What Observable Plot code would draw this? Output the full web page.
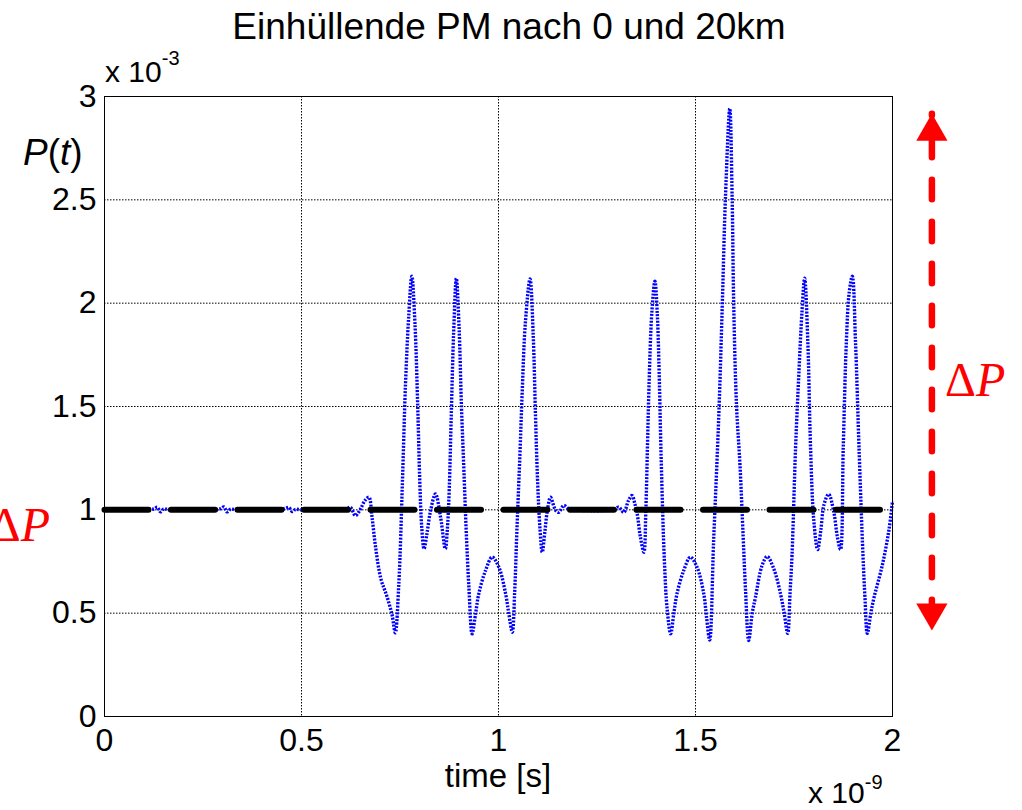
<!DOCTYPE html>
<html><head><meta charset="utf-8">
<script src="https://cdn.jsdelivr.net/npm/d3@7"></script>
<script src="https://cdn.jsdelivr.net/npm/@observablehq/plot@0.6"></script>
<style>
body{margin:0;background:#fff;}
#chart{width:1022px;height:810px;}
</style></head><body><div id="chart"></div>
<script>
// ---- data (time in units of 1e-9 s, power in units of 1e-3) ----
const timeNs = [
  0.000,0.100,0.125,0.134,0.142,0.150,0.165,0.280,0.295,0.303,0.311,0.320,0.335,
  0.445,0.460,0.468,0.476,0.485,0.500,0.600,0.615,0.624,0.637,0.650,0.661,0.671,
  0.679,0.688,0.701,0.717,0.730,0.738,0.747,0.756,0.764,0.772,0.780,0.788,0.795,
  0.800,0.805,0.811,0.818,0.827,0.840,0.853,0.865,0.870,0.875,0.880,0.886,0.893,
  0.900,0.906,0.912,0.918,0.925,0.933,0.942,0.950,0.967,0.984,1.001,1.018,1.026,
  1.035,1.041,1.047,1.054,1.060,1.068,1.080,1.088,1.094,1.099,1.105,1.111,1.118,
  1.124,1.132,1.140,1.145,1.153,1.166,1.178,1.190,1.290,1.305,1.318,1.330,1.339,
  1.346,1.352,1.360,1.369,1.374,1.378,1.382,1.389,1.397,1.403,1.407,1.413,1.421,
  1.428,1.437,1.445,1.453,1.470,1.487,1.504,1.521,1.528,1.536,1.546,1.559,1.568,
  1.576,1.587,1.593,1.597,1.604,1.613,1.621,1.627,1.635,1.644,1.652,1.669,1.682,
  1.699,1.716,1.725,1.734,1.740,1.745,1.754,1.762,1.770,1.777,1.785,1.792,1.800,
  1.810,1.818,1.826,1.838,1.851,1.860,1.868,1.875,1.883,1.890,1.898,1.906,1.915,
  1.925,1.930,1.936,1.945,1.953,1.974,1.991,2.000
];
const powerMilli = [
  1.000,1.000,1.004,1.012,0.990,1.004,1.000,1.000,1.006,1.014,0.990,1.003,1.000,
  1.000,1.008,1.012,0.992,1.002,1.000,1.000,1.004,1.013,0.972,1.005,1.045,1.061,
  0.964,0.820,0.670,0.580,0.490,0.405,0.642,1.126,1.610,1.932,2.130,1.900,1.500,
  1.150,0.920,0.811,0.880,0.990,1.077,0.964,0.811,0.900,1.100,1.450,1.850,2.120,
  1.880,1.500,1.200,0.900,0.620,0.400,0.500,0.594,0.706,0.771,0.722,0.594,0.500,
  0.408,0.600,0.916,1.250,1.561,1.900,2.117,1.850,1.450,1.150,0.916,0.795,0.900,
  0.997,1.061,1.020,0.997,0.988,1.021,1.005,1.000,1.000,1.013,0.988,1.045,1.069,
  1.030,0.981,0.870,0.795,1.000,1.300,1.600,1.950,2.106,1.950,1.722,1.239,0.755,
  0.520,0.400,0.500,0.594,0.706,0.771,0.722,0.594,0.480,0.370,0.850,1.450,1.992,
  2.510,2.942,2.510,1.992,1.508,1.214,0.869,0.610,0.368,0.500,0.575,0.731,0.774,
  0.713,0.592,0.500,0.402,0.600,0.782,1.301,1.646,1.950,2.121,1.819,1.301,0.955,
  0.808,0.900,1.024,1.076,0.990,0.870,0.808,1.301,1.819,2.050,2.130,1.819,1.301,
  0.782,0.580,0.402,0.500,0.575,0.731,0.903,1.042
];
const refTime = [0, 2];
const refPower = [1, 1];
const xTicks = [0, 0.5, 1, 1.5, 2];
const xTickLabels = ["0", "0.5", "1", "1.5", "2"];
const yTicks = [0, 0.5, 1, 1.5, 2, 2.5, 3];
const yTickLabels = ["0", "0.5", "1", "1.5", "2", "2.5", "3"];
const titleText = "Einhüllende PM nach 0 und 20km";
const xLabelText = "time [s]";
const xExponent = "-9";
const yExponent = "-3";
// ΔP annotation arrow (time position, lower tip, upper tip)
const arrowTime = [2.1];
const arrowLow = [0.416];
const arrowHigh = [2.917];

// ---- build ----
const blue = timeNs.map((t, i) => ({t, p: powerMilli[i]}));
const ref = refTime.map((t, i) => ({t, p: refPower[i]}));
const arrow = arrowTime.map((t, i) => ({t, lo: arrowLow[i], hi: arrowHigh[i]}));

const triUp = {draw(ctx, size) {
  const y = -Math.sqrt(size / (3 * Math.sqrt(3)));
  ctx.moveTo(0, 2 * y); ctx.lineTo(-Math.sqrt(3) * y, -y); ctx.lineTo(Math.sqrt(3) * y, -y); ctx.closePath();
}};
const triDown = {draw(ctx, size) {
  const y = Math.sqrt(size / (3 * Math.sqrt(3)));
  ctx.moveTo(0, 2 * y); ctx.lineTo(-Math.sqrt(3) * y, -y); ctx.lineTo(Math.sqrt(3) * y, -y); ctx.closePath();
}};

const FONT = "'Liberation Sans', Arial, sans-serif";
const SERIF = "'Liberation Serif', 'Times New Roman', serif";

const plot = Plot.plot({
  width: 1022, height: 810,
  marginLeft: 104, marginRight: 130, marginTop: 96, marginBottom: 94,
  style: {fontFamily: FONT, fontSize: "32px", background: "white", color: "black", overflow: "visible"},
  x: {domain: [0, 2]},
  y: {domain: [0, 3]},
  marks: [
    Plot.gridX(xTicks, {stroke: "black", strokeOpacity: 1, strokeWidth: 1, strokeDasharray: "1.5,1.5"}),
    Plot.gridY(yTicks, {stroke: "black", strokeOpacity: 1, strokeWidth: 1, strokeDasharray: "1.5,1.5"}),
    Plot.axisX(xTicks, {tickSize: 0, tickPadding: 12, fontSize: 32, label: null,
      tickFormat: d => xTickLabels[xTicks.indexOf(d)]}),
    Plot.axisY(yTicks, {tickSize: 0, tickPadding: 8, fontSize: 32, label: null,
      tickFormat: d => yTickLabels[yTicks.indexOf(d)]}),
    Plot.line(blue, {x: "t", y: "p", stroke: "#0000ff", strokeWidth: 3.4, strokeDasharray: "2,1.4",
      strokeLinecap: "butt", curve: "catmull-rom"}),
    Plot.line(ref, {x: "t", y: "p", stroke: "black", strokeWidth: 6, strokeDasharray: "44,22.5", strokeLinecap: "round"}),
    Plot.frame({stroke: "black", strokeWidth: 1}),
    Plot.link(arrow, {x1: "t", x2: "t", y1: "hi", y2: "lo", stroke: "red", strokeWidth: 6.5,
      strokeDasharray: "19.5,22.5", strokeDashoffset: -24, strokeLinecap: "round"}),
    Plot.dot(arrow, {x: "t", y: "hi", symbol: triUp, r: 11.6, fill: "red", stroke: "none", dy: 18}),
    Plot.dot(arrow, {x: "t", y: "lo", symbol: triDown, r: 11.6, fill: "red", stroke: "none", dy: -18})
  ]
});

const svg = d3.select(plot);
const xs = plot.scale("x"), ys = plot.scale("y");
const pxLeft = xs.apply(0), pxRight = xs.apply(2), pxTop = ys.apply(3), pxBottom = ys.apply(0);

// title
svg.append("text").attr("x", (pxLeft + pxRight) / 2 + 11).attr("y", 39)
  .attr("text-anchor", "middle").attr("font-family", FONT).attr("font-size", 37).attr("fill", "black")
  .text(titleText);

// y exponent
const ye = svg.append("text").attr("x", pxLeft + 1).attr("y", pxTop - 14).attr("text-anchor", "start")
  .attr("font-family", FONT).attr("font-size", 30).attr("fill", "black");
ye.append("tspan").text("x 10");
ye.append("tspan").attr("font-size", 20).attr("dy", -17).text(yExponent);

// x exponent
const xe = svg.append("text").attr("x", pxRight - 84).attr("y", pxBottom + 87).attr("text-anchor", "start")
  .attr("font-family", FONT).attr("font-size", 30).attr("fill", "black");
xe.append("tspan").text("x 10");
xe.append("tspan").attr("font-size", 20).attr("dy", -14).text(xExponent);

// x label
svg.append("text").attr("x", (pxLeft + pxRight) / 2).attr("y", pxBottom + 71)
  .attr("text-anchor", "middle").attr("font-family", FONT).attr("font-size", 33).attr("fill", "black")
  .text(xLabelText);

// y label P(t)
const yl = svg.append("text").attr("x", 23).attr("y", 165).attr("text-anchor", "start")
  .attr("font-family", FONT).attr("font-size", 37).attr("fill", "black");
yl.append("tspan").attr("font-style", "italic").text("P");
yl.append("tspan").text("(");
yl.append("tspan").attr("font-style", "italic").text("t");
yl.append("tspan").text(")");

// ΔP labels (the left one is partly cut by the page edge, as in the reference)
function deltaP(x, y, anchor) {
  const t = svg.append("text").attr("x", x).attr("y", y).attr("text-anchor", anchor)
    .attr("font-family", SERIF).attr("font-size", 48).attr("fill", "red");
  t.append("tspan").text("Δ");
  t.append("tspan").attr("font-style", "italic").text("P");
}
deltaP(945, 396, "start");
deltaP(50, 541, "end");

document.getElementById("chart").appendChild(plot);
</script></body></html>
